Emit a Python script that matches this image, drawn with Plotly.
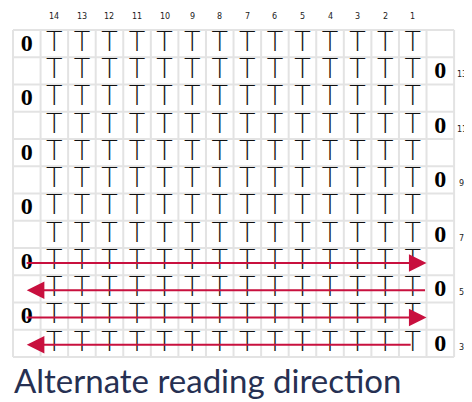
import plotly.graph_objects as go

col_labels = list(range(14, 0, -1))
row_labels = list(range(14, 2, -1))
chain_symbol = "0"
stitch_symbol = "T"
arrow_rows = [6, 5, 4, 3]
arrow_dirs = ["right", "left", "right", "left"]
caption = "Alternate reading direction"

ncols = len(col_labels) + 2
nrows = len(row_labels)
def yi(r):  # row label -> center y
    return (r - min(row_labels)) + 0.5

fig = go.Figure()
shapes = []
for c in range(ncols + 1):
    shapes.append(dict(type="line", x0=c, x1=c, y0=0, y1=nrows, line=dict(color="#e3e3e3", width=2), layer="below"))
for r in range(nrows + 1):
    shapes.append(dict(type="line", x0=0, x1=ncols, y0=r, y1=r, line=dict(color="#e3e3e3", width=2), layer="below"))

tx, ty = [], []
for r in row_labels:
    for j in range(len(col_labels)):
        tx.append(j + 1.5); ty.append(yi(r) - 0.02)
fig.add_trace(go.Scatter(x=tx, y=ty, mode="text", text=[stitch_symbol]*len(tx),
    textfont=dict(family="DejaVu Sans ExtraLight, DejaVu Sans Light, DejaVu Sans", size=27, color="#111"), hoverinfo="skip"))

cx, cy = [], []
for r in row_labels:
    cx.append(0.5 if r % 2 == 0 else ncols - 0.5); cy.append(yi(r) - 0.05)
fig.add_trace(go.Scatter(x=cx, y=cy, mode="text", text=["<b>%s</b>" % chain_symbol]*len(cx),
    textfont=dict(family="Liberation Sans Narrow", size=24, color="#000"), hoverinfo="skip"))

ann = []
for j, c in enumerate(col_labels):
    ann.append(dict(x=j + 1.5, y=nrows + 0.5, text=str(c), showarrow=False, font=dict(family="DejaVu Sans", size=8, color="#222")))
for r in row_labels:
    x = -0.23 if r % 2 == 0 else ncols + 0.27
    ann.append(dict(x=x, y=yi(r) + (0.15 if r % 2 == 0 else -0.15), text=str(r), showarrow=False, font=dict(family="DejaVu Sans", size=8, color="#222")))

for r, d in zip(arrow_rows, arrow_dirs):
    y = yi(r) - 0.05
    if d == "right":
        x0, x1 = 0.44, ncols - 1.0
    else:
        x0, x1 = (ncols - 1.0 if r != min(row_labels) else ncols - 1.52), 0.5
    ann.append(dict(x=x1, y=y, ax=x0, ay=y, axref="x", ayref="y", xref="x", yref="y",
        showarrow=True, arrowhead=2, arrowsize=1.6, arrowwidth=2.2, arrowcolor="#c8103e", text=""))

ann.append(dict(x=-0.05, y=-0.85, xanchor="left", text=caption, showarrow=False,
    font=dict(family="Lato", size=33, color="#263052")))

fig.update_layout(width=472, height=402, margin=dict(l=0, r=0, t=0, b=0),
    plot_bgcolor="white", paper_bgcolor="white", showlegend=False,
    shapes=shapes, annotations=ann,
    xaxis=dict(range=[-0.181, 16.94], visible=False, fixedrange=True),
    yaxis=dict(range=[-1.945, 12.807], visible=False, fixedrange=True))
fig.write_html("out.html")
